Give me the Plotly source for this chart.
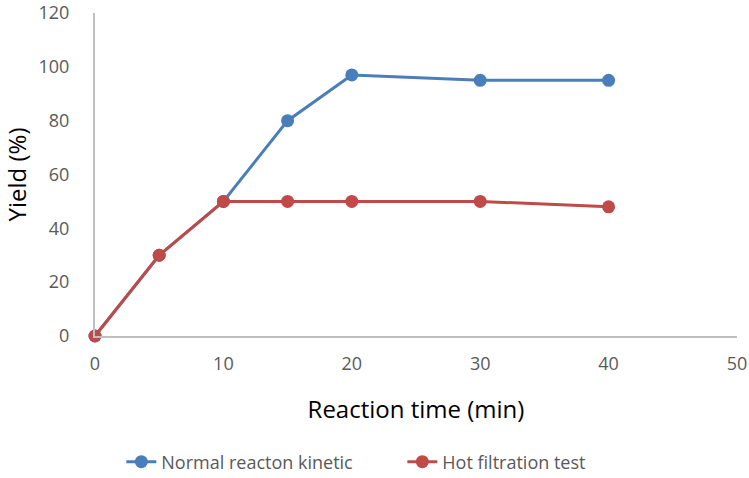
import plotly.graph_objects as go

time_normal = [0, 5, 10, 15, 20, 30, 40]
yield_normal = [0, 30, 50, 80, 97, 95, 95]
time_hot = [0, 5, 10, 15, 20, 30, 40]
yield_hot = [0, 30, 50, 50, 50, 50, 48]
x_ticks = [0, 10, 20, 30, 40, 50]
y_ticks = [0, 20, 40, 60, 80, 100, 120]

BLUE = "#4A7EBB"
RED = "#BE4B48"
FONT = "Open Sans"

fig = go.Figure()
fig.add_trace(go.Scatter(x=time_normal, y=yield_normal, mode="lines+markers",
                         name="Normal reacton kinetic", cliponaxis=False,
                         line=dict(color=BLUE, width=3),
                         marker=dict(color=BLUE, size=13)))
fig.add_trace(go.Scatter(x=time_hot, y=yield_hot, mode="lines+markers",
                         name="Hot filtration test", cliponaxis=False,
                         line=dict(color=RED, width=3),
                         marker=dict(color=RED, size=13)))

fig.update_layout(
    width=749, height=478,
    margin=dict(l=95, r=12, t=13, b=142, autoexpand=False),
    paper_bgcolor="white", plot_bgcolor="white",
    font=dict(family=FONT, color="#595959", size=18),
    showlegend=True,
    legend=dict(orientation="h", x=0.041, xanchor="left", y=-0.39, yanchor="middle",
                font=dict(size=18, color="#595959"),
                entrywidth=236, entrywidthmode="pixels"),
    xaxis=dict(range=[0, 50], tickvals=x_ticks, showgrid=False, zeroline=False,
               showline=True, linecolor="#BFBFBF", linewidth=2,
               ticks="", ticklen=0, automargin=False, ticklabeloverflow="allow",
               title=dict(text="Reaction time (min)", font=dict(size=24, color="black"), standoff=28)),
    yaxis=dict(range=[0, 120], tickvals=y_ticks, showgrid=False, zeroline=False,
               showline=True, linecolor="#BFBFBF", linewidth=2,
               ticks="", ticklen=0, automargin=False, ticklabeloverflow="allow",
               title=dict(text="Yield (%)", font=dict(size=24, color="black"), standoff=14)),
)
fig.update_xaxes(ticklabelstandoff=10)
fig.update_yaxes(ticklabelstandoff=20)

fig.write_html("out.html", config={"displayModeBar": False},
               post_script="document.body.style.margin='0';")
